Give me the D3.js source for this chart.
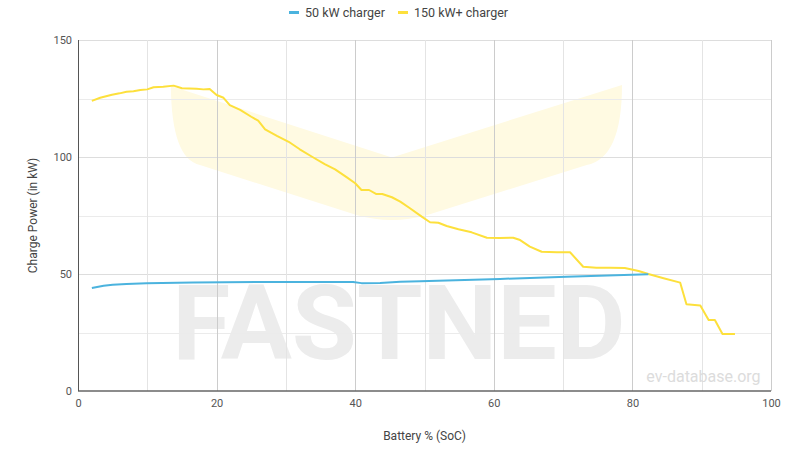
<!DOCTYPE html>
<html>
<head>
<meta charset="utf-8">
<script src="https://cdn.jsdelivr.net/npm/d3@7"></script>
<style>
  html, body { margin: 0; padding: 0; background: #ffffff; }
  svg { display: block; font-family: Roboto, "Noto Sans", Arial, sans-serif; }
</style>
</head>
<body>
<svg id="chart" width="800" height="460"></svg>
<script>
// ---- Data ----
const seriesNames = ["50 kW charger", "150 kW+ charger"];
const seriesColors = ["#4bb3de", "#fde03c"];

const soc50 = [2.0, 3.7, 5.0, 7.0, 9.9, 16.6, 26.3, 39.7, 40.9, 43.6, 46.5, 49.4, 60.9, 70.5, 82.3];
const power50 = [44.0, 45.0, 45.4, 45.7, 46.0, 46.4, 46.6, 46.6, 46.1, 46.2, 46.7, 46.9, 47.9, 48.8, 49.9];

const soc150 = [2.0, 3.2, 4.9, 6.0, 7.0, 8.0, 9.0, 10.0, 10.9, 12.3, 13.8, 15.0, 17.1, 18.1, 19.0,
  20.0, 21.0, 21.9, 23.4, 25.0, 26.0, 27.0, 28.7, 30.4, 32.0, 33.9, 35.6, 37.1, 38.8, 40.0,
  40.9, 42.0, 43.0, 43.9, 45.3, 46.5, 47.9, 49.6, 50.8, 52.0, 53.2, 54.9, 56.8, 59.0, 60.9,
  62.8, 63.8, 65.2, 66.9, 69.1, 71.0, 72.9, 74.8, 76.8, 78.9, 80.9, 82.3, 84.5, 86.9, 87.8,
  89.8, 91.0, 91.9, 93.0, 94.8];
const power150 = [124.0, 125.3, 126.6, 127.2, 127.9, 128.1, 128.6, 128.9, 129.8, 130.0, 130.5, 129.4, 129.2, 128.9, 129.1,
  126.5, 125.3, 122.2, 120.1, 117.2, 115.5, 111.8, 109.0, 106.5, 103.3, 99.9, 97.0, 94.7, 91.3, 88.8,
  85.9, 85.9, 84.2, 84.2, 82.8, 80.9, 78.1, 74.5, 72.1, 71.9, 70.5, 69.1, 67.8, 65.5, 65.4,
  65.5, 64.5, 61.7, 59.5, 59.3, 59.3, 53.1, 52.7, 52.7, 52.6, 51.3, 50.0, 48.2, 46.3, 37.1,
  36.5, 30.3, 30.3, 24.4, 24.4];

const xTicks = [0, 20, 40, 60, 80, 100];
const xMinorTicks = [10, 30, 50, 70, 90];
const yTicks = [0, 50, 100, 150];
const yMinorTicks = [25, 75, 125];

const xTitle = "Battery % (SoC)";
const yTitle = "Charge Power (in kW)";
const watermarkText = "FASTNED";
const sourceText = "ev-database.org";

// Logo band (decoration) in data units: [SoC, kW]
const bandTopLeft = [13.4, 130.3];
const bandTopApex = [45.3, 99.8];
const bandTopRight = [78.5, 130.8];
const bandRightCtrl = [78.5, 99.5];
const bandBottomRight = [73.4, 96.6];
const bandApexRight = [50.3, 75.1];
const bandApexCtrl = [45.3, 71.0];
const bandApexLeft = [40.3, 75.1];
const bandBottomLeft = [17.6, 96.6];
const bandLeftCtrl = [13.5, 99.0];

// ---- Layout ----
const svg = d3.select("#chart");
const margin = { left: 78, right: 29, top: 40, bottom: 69 };
const W = 800, H = 460;
const x = d3.scaleLinear().domain([0, 100]).range([margin.left, W - margin.right]);
const y = d3.scaleLinear().domain([0, 150]).range([H - margin.bottom, margin.top]);

// watermark text
svg.append("text")
  .attr("x", x(13.6)).attr("y", y(13.6))
  .attr("textLength", x(79.0) - x(13.6))
  .attr("lengthAdjust", "spacingAndGlyphs")
  .attr("font-size", 104).attr("font-weight", 700)
  .attr("fill", "#ececec")
  .text(watermarkText);

// band
const P = p => [x(p[0]), y(p[1])];
const bp = d3.path();
bp.moveTo(...P(bandTopLeft));
bp.lineTo(...P(bandTopApex));
bp.lineTo(...P(bandTopRight));
bp.quadraticCurveTo(...P(bandRightCtrl), ...P(bandBottomRight));
bp.lineTo(...P(bandApexRight));
bp.quadraticCurveTo(...P(bandApexCtrl), ...P(bandApexLeft));
bp.lineTo(...P(bandBottomLeft));
bp.quadraticCurveTo(...P(bandLeftCtrl), ...P(bandTopLeft));
bp.closePath();
svg.append("path").attr("d", bp.toString()).attr("fill", "#fffae2");

// grid
const grid = svg.append("g");
grid.selectAll(".hmin").data(yMinorTicks).join("line")
  .attr("x1", x(0)).attr("x2", x(100)).attr("y1", d => Math.round(y(d)) + 0.5).attr("y2", d => Math.round(y(d)) + 0.5)
  .attr("stroke", "#ebebeb");
grid.selectAll(".hmaj").data(yTicks.filter(d => d > 0)).join("line")
  .attr("x1", x(0)).attr("x2", x(100)).attr("y1", d => Math.round(y(d)) + 0.5).attr("y2", d => Math.round(y(d)) + 0.5)
  .attr("stroke", "#dddddd");
grid.selectAll(".vmin").data(xMinorTicks).join("line")
  .attr("y1", y(0)).attr("y2", y(150)).attr("x1", d => Math.round(x(d)) + 0.5).attr("x2", d => Math.round(x(d)) + 0.5)
  .attr("stroke", "#e4e4e4");
grid.selectAll(".vmaj").data(xTicks.filter(d => d > 0)).join("line")
  .attr("y1", y(0)).attr("y2", y(150)).attr("x1", d => Math.round(x(d)) + 0.5).attr("x2", d => Math.round(x(d)) + 0.5)
  .attr("stroke", "#cccccc");

// source label
svg.append("text")
  .attr("x", x(98.5)).attr("y", y(4))
  .attr("text-anchor", "end")
  .attr("font-size", 16).attr("fill", "#dcdcdc")
  .text(sourceText);

// axes
const xAxis = d3.axisBottom(x).tickValues(xTicks).tickSize(0).tickPadding(8).tickFormat(d3.format("d"));
const yAxis = d3.axisLeft(y).tickValues(yTicks).tickSize(0).tickPadding(6).tickFormat(d3.format("d"));
const gx = svg.append("g").attr("transform", `translate(0,${y(0)})`).call(xAxis);
const gy = svg.append("g").attr("transform", `translate(${x(0)},0)`).call(yAxis);
[gx, gy].forEach(g => {
  g.select(".domain").remove();
  g.selectAll("text").attr("font-size", 11).attr("fill", "#555").attr("font-family", "Roboto, sans-serif");
});
svg.append("line").attr("x1", x(0)).attr("x2", x(100)).attr("y1", y(0)).attr("y2", y(0))
  .attr("stroke", "#666").attr("stroke-width", 1.5);
svg.append("line").attr("x1", x(0) + 0.5).attr("x2", x(0) + 0.5).attr("y1", y(0)).attr("y2", y(150))
  .attr("stroke", "#555").attr("stroke-width", 1);

// lines
const line = d3.line().x(d => x(d[0])).y(d => y(d[1]));
const d50 = soc50.map((s, i) => [s, power50[i]]);
const d150 = soc150.map((s, i) => [s, power150[i]]);
svg.append("path").datum(d150).attr("d", line).attr("fill", "none")
  .attr("stroke", seriesColors[1]).attr("stroke-width", 2).attr("stroke-linejoin", "round");
svg.append("path").datum(d50).attr("d", line).attr("fill", "none")
  .attr("stroke", seriesColors[0]).attr("stroke-width", 2).attr("stroke-linejoin", "round");

// axis titles
svg.append("text").attr("x", (x(0) + x(100)) / 2).attr("y", 440)
  .attr("text-anchor", "middle").attr("font-size", 12).attr("fill", "#444").text(xTitle);
svg.append("text").attr("transform", `translate(37,${(y(0) + y(150)) / 2}) rotate(-90)`)
  .attr("text-anchor", "middle").attr("font-size", 12).attr("fill", "#444").text(yTitle);

// legend
const legendX = [289, 398];
const lg = svg.append("g");
seriesNames.forEach((name, i) => {
  lg.append("rect").attr("x", legendX[i]).attr("y", 11).attr("width", 10).attr("height", 3)
    .attr("fill", seriesColors[i]);
  lg.append("text").attr("x", legendX[i] + 16).attr("y", 17)
    .attr("font-size", 12.5).attr("fill", "#444").text(name);
});
</script>
</body>
</html>
